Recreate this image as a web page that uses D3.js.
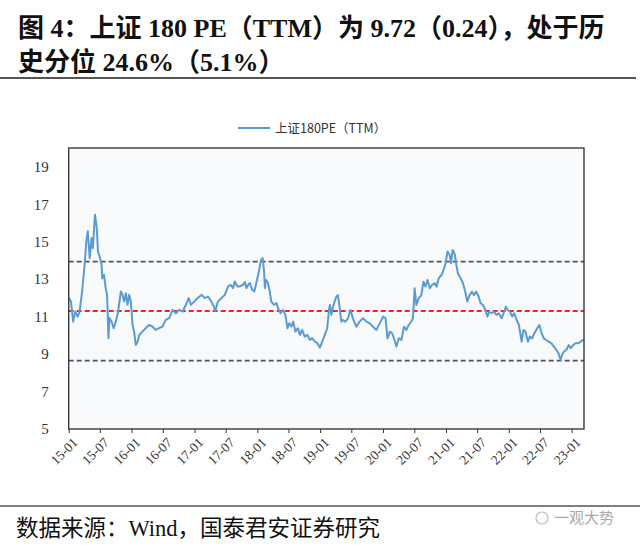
<!DOCTYPE html>
<html>
<head>
<meta charset="utf-8">
<script src="https://d3js.org/d3.v7.min.js"></script>
<title>上证180 PE</title>
<style>
body { margin: 0; background: #fff; }
.axis path.domain { display: none; }
.axis text { font-family: "Liberation Serif", "Times New Roman", serif; font-size: 15px; fill: #333; }
.xaxis line { stroke: #333; }
</style>
</head>
<body>
<svg id="chart"></svg>
<script>
// 上证180 PE(TTM)
const dates = [
  "2015-01-01","2015-01-14","2015-01-27","2015-02-08","2015-02-22","2015-03-05","2015-03-20","2015-04-05",
  "2015-04-13","2015-04-22","2015-05-03","2015-05-14","2015-05-21","2015-06-03","2015-06-13","2015-06-20",
  "2015-07-02","2015-07-11","2015-07-15","2015-07-25","2015-08-04","2015-08-12","2015-08-20","2015-08-26",
  "2015-09-07","2015-09-19","2015-10-02","2015-10-15","2015-10-31","2015-11-10","2015-11-19","2015-11-29",
  "2015-12-09","2015-12-18","2015-12-28","2016-01-07","2016-01-16","2016-01-26","2016-02-06","2016-02-15",
  "2016-03-04","2016-03-23","2016-04-12","2016-05-01","2016-05-20","2016-06-09","2016-06-29","2016-07-18",
  "2016-08-07","2016-08-27","2016-09-15","2016-10-04","2016-10-24","2016-11-12","2016-11-28","2016-12-11",
  "2016-12-30","2017-01-19","2017-02-12","2017-03-01","2017-03-20","2017-04-09","2017-04-23","2017-05-02",
  "2017-05-17","2017-06-07","2017-06-26","2017-07-15","2017-07-30","2017-08-13","2017-08-23","2017-09-08",
  "2017-09-21","2017-10-10","2017-10-20","2017-10-30","2017-11-09","2017-11-19","2017-12-02","2017-12-14",
  "2017-12-28","2018-01-10","2018-01-22","2018-02-01","2018-02-09","2018-02-14","2018-02-20","2018-03-04",
  "2018-03-14","2018-03-23","2018-04-08","2018-04-22","2018-05-05","2018-05-16","2018-05-30","2018-06-13",
  "2018-06-25","2018-07-06","2018-07-18","2018-07-29","2018-08-10","2018-08-25","2018-09-06","2018-09-18",
  "2018-10-03","2018-10-19","2018-11-02","2018-11-15","2018-12-01","2018-12-16","2018-12-30","2019-01-13",
  "2019-01-28","2019-02-11","2019-02-22","2019-02-27","2019-03-07","2019-03-16","2019-03-26","2019-04-05",
  "2019-04-14","2019-04-24","2019-05-04","2019-05-13","2019-05-27","2019-06-12","2019-06-26","2019-07-10",
  "2019-07-30","2019-08-18","2019-09-07","2019-09-27","2019-10-16","2019-11-04","2019-11-24","2019-12-13",
  "2020-01-02","2020-01-16","2020-01-27","2020-02-10","2020-02-23","2020-03-05","2020-03-19","2020-04-02",
  "2020-04-17","2020-05-02","2020-05-16","2020-05-29","2020-06-14","2020-06-23","2020-07-03","2020-07-13",
  "2020-07-26","2020-08-11","2020-08-23","2020-09-04","2020-09-16","2020-09-29","2020-10-12","2020-10-28",
  "2020-11-07","2020-11-20","2020-12-06","2020-12-18","2020-12-30","2021-01-10","2021-01-22","2021-01-30",
  "2021-02-09","2021-02-22","2021-03-02","2021-03-11","2021-03-27","2021-04-10","2021-04-23","2021-05-05",
  "2021-05-18","2021-06-01","2021-06-12","2021-06-26","2021-07-10","2021-07-21","2021-08-04","2021-08-18",
  "2021-08-30","2021-09-09","2021-09-23","2021-10-08","2021-10-21","2021-11-04","2021-11-20","2021-12-05",
  "2021-12-15","2021-12-25","2022-01-08","2022-01-21","2022-02-02","2022-02-16","2022-03-01","2022-03-10",
  "2022-03-17","2022-03-27","2022-04-08","2022-04-22","2022-05-03","2022-05-17","2022-05-30","2022-06-15",
  "2022-06-28","2022-07-08","2022-07-23","2022-08-07","2022-08-20","2022-09-05","2022-09-20","2022-10-04",
  "2022-10-17","2022-10-29","2022-11-06","2022-11-17","2022-12-01","2022-12-15","2022-12-27","2023-01-10",
  "2023-01-24","2023-02-08","2023-02-24","2023-03-03","2023-03-13"
]
const pe = [
  12.0,11.8,10.73,11.27,11.0,11.25,12.34,13.94,
  15.0,15.55,14.12,15.19,14.65,16.44,15.73,14.48,
  14.12,13.77,13.05,13.23,12.52,12.16,9.85,10.92,
  10.73,10.38,10.73,11.27,12.34,12.16,11.8,12.25,
  11.63,12.16,11.8,10.55,10.2,9.49,9.67,10.02,
  10.2,10.38,10.55,10.47,10.29,10.38,10.47,10.83,
  10.92,11.36,11.18,11.36,11.27,11.63,11.99,11.63,
  11.8,11.99,12.16,11.99,12.07,11.8,11.54,11.31,
  11.8,11.99,12.16,12.61,12.7,12.52,12.87,12.61,
  12.61,12.7,12.84,12.52,12.7,12.79,12.43,12.34,
  12.87,13.41,14.03,14.12,13.41,12.52,12.96,12.79,
  12.34,11.8,11.63,11.72,11.36,11.18,11.36,11.09,
  10.38,10.65,10.47,10.73,10.2,10.38,10.02,10.29,
  9.93,10.02,9.76,9.85,9.67,9.58,9.35,9.67,
  10.02,10.38,11.4,11.62,11.09,11.5,11.8,12.06,
  12.15,11.5,10.73,10.82,10.73,10.91,11.35,10.91,
  10.46,10.73,10.91,10.73,10.64,10.46,10.29,10.64,
  11.0,10.91,9.84,10.2,10.11,9.84,9.4,9.84,
  9.75,10.46,10.29,10.55,10.73,10.91,12.51,11.62,
  11.97,12.15,12.86,12.6,12.96,12.51,12.69,12.78,
  12.6,13.05,13.22,13.49,13.85,14.47,14.29,13.85,
  14.56,14.3,13.76,13.31,13.05,12.78,12.33,11.8,
  12.15,12.33,12.15,12.33,12.06,11.71,11.62,11.35,
  11.0,11.26,11.18,11.26,11.09,11.18,10.91,11.26,
  11.53,11.35,11.26,11.0,11.18,10.82,10.55,10.02,
  9.66,10.29,10.2,9.66,9.93,9.84,10.11,10.38,
  10.55,10.2,9.84,9.75,9.66,9.58,9.4,9.22,
  9.04,8.68,8.95,9.13,9.22,9.48,9.31,9.48,
  9.58,9.58,9.66,9.75,9.72
]
// 均值与正负一倍标准差
const refLevels = [13.93, 11.3, 8.65]
const refColors = ["#4b5262", "#e8262c", "#4b5262"]
const yTicks = [5, 7, 9, 11, 13, 15, 17, 19]
const xTicks = ["15-01","15-07","16-01","16-07","17-01","17-07","18-01","18-07","19-01",
  "19-07","20-01","20-07","21-01","21-07","22-01","22-07","23-01"]
const seriesName = "上证180PE（TTM）"
const titleLines = ["图 4：上证 180 PE（TTM）为 9.72（0.24），处于历", "史分位 24.6%（5.1%）"]
const sourceText = "数据来源：Wind，国泰君安证券研究"

const w = 640, h = 545
const plotL = 68.7, plotR = 584, plotT = 148, plotB = 429

const svg = d3.select("#chart").attr("width", w).attr("height", h)
const parseDay = d3.timeParse("%Y-%m-%d")
const parseTick = d3.timeParse("%y-%m")
const data = dates.map((d, i) => ({ date: parseDay(d), v: pe[i] }))

const x = d3.scaleTime().domain([parseDay("2015-01-01"), parseDay("2023-03-14")]).range([plotL, plotR])
const y = d3.scaleLinear().domain([5, 20]).range([plotB, plotT])

// 标题
svg.selectAll("text.title").data(titleLines).enter().append("text")
  .attr("class", "title")
  .attr("x", 18).attr("y", (d, i) => 37 + i * 34)
  .style("font-family", "'Liberation Serif', 'Noto Sans CJK SC', serif")
  .style("font-weight", "bold").style("font-size", "26px").style("fill", "#111")
  .text(d => d)
svg.append("line").attr("x1", 0).attr("x2", 636).attr("y1", 78).attr("y2", 78)
  .style("stroke", "#555").style("stroke-width", 2)

// 绘图区
svg.append("rect").attr("x", plotL).attr("y", plotT)
  .attr("width", plotR - plotL).attr("height", plotB - plotT)
  .style("fill", "#f9fafb").style("stroke", "none")

svg.append("g").selectAll("line").data(refLevels).enter().append("line")
  .attr("x1", plotL).attr("x2", plotR)
  .attr("y1", d => y(d)).attr("y2", d => y(d))
  .style("stroke", (d, i) => refColors[i])
  .style("stroke-width", 1.8)
  .style("stroke-dasharray", "5,3")

const line = d3.line().x(d => x(d.date)).y(d => y(d.v))
svg.append("path").attr("d", line(data))
  .style("fill", "none").style("stroke", "#5b9bd5").style("stroke-width", 2)
  .style("stroke-linejoin", "round")

svg.append("rect").attr("x", plotL).attr("y", plotT)
  .attr("width", plotR - plotL).attr("height", plotB - plotT)
  .style("fill", "none").style("stroke", "#3a3a3a").style("stroke-width", 1.4)

// 坐标轴
const yAxis = d3.axisLeft(y).tickValues(yTicks).tickSize(0).tickPadding(20)
svg.append("g").attr("class", "axis").attr("transform", "translate(" + plotL + ",0)").call(yAxis)

const xAxis = d3.axisBottom(x).tickValues(xTicks.map(parseTick))
  .tickFormat(d3.timeFormat("%y-%m")).tickSize(4).tickSizeOuter(0)
const gx = svg.append("g").attr("class", "axis xaxis").attr("transform", "translate(0," + plotB + ")").call(xAxis)
gx.selectAll("text")
  .attr("text-anchor", "end")
  .attr("x", 0).attr("y", 0).attr("dy", "0.35em")
  .attr("transform", "translate(6,11) rotate(-45)")
  .style("font-size", "13.5px")

// 图例
svg.append("line").attr("x1", 238).attr("x2", 270).attr("y1", 128).attr("y2", 128)
  .style("stroke", "#5b9bd5").style("stroke-width", 2)
svg.append("text").attr("x", 275).attr("y", 132.5)
  .style("font-family", "'Noto Sans CJK SC', sans-serif").style("font-size", "12.5px").style("fill", "#333")
  .text(seriesName)

// 来源
svg.append("line").attr("x1", 0).attr("x2", 640).attr("y1", 506).attr("y2", 506)
  .style("stroke", "#555").style("stroke-width", 1.5)
svg.append("text").attr("x", 16).attr("y", 536)
  .style("font-family", "'Liberation Serif', 'Noto Sans CJK SC', serif").style("font-size", "22.5px").style("fill", "#111")
  .text(sourceText)
svg.append("circle").attr("cx", 542).attr("cy", 518).attr("r", 6)
  .style("fill", "none").style("stroke", "#bbb").style("stroke-width", 1.2)
svg.append("text").attr("x", 554).attr("y", 523)
  .style("font-family", "'Noto Sans CJK SC', sans-serif").style("font-size", "15px").style("fill", "#aaa")
  .text("一观大势")
</script>
</body>
</html>
